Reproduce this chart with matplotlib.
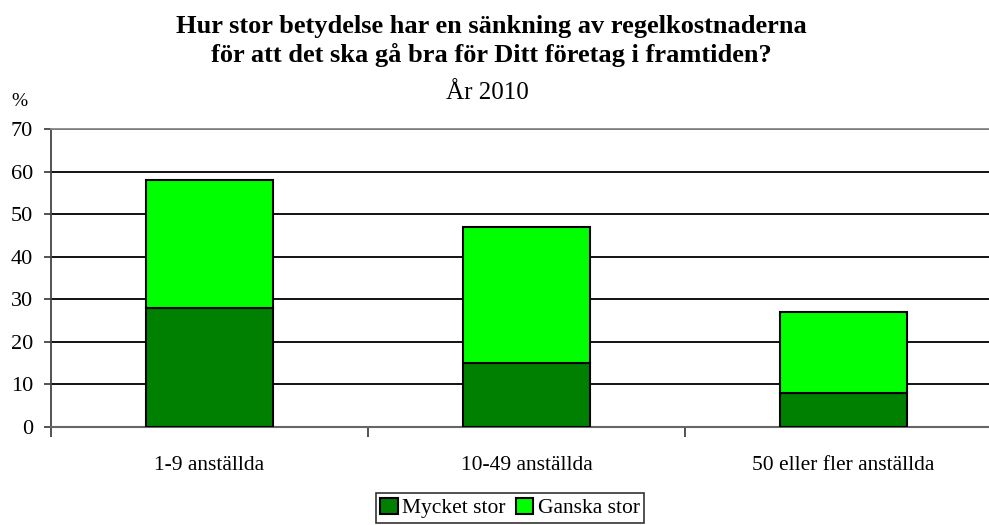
import matplotlib
matplotlib.use("Agg")
import matplotlib.pyplot as plt
import numpy as np

# Data (percent)
categories = ["1-9 anställda", "10-49 anställda", "50 eller fler anställda"]
mycket_stor = [28, 15, 8]
ganska_stor = [30, 32, 19]
series_names = ["Mycket stor", "Ganska stor"]
yticks = [0, 10, 20, 30, 40, 50, 60, 70]

plt.rcParams["font.family"] = ["Liberation Serif", "DejaVu Serif"]


def main():
    fig = plt.figure(figsize=(9.89, 5.25), dpi=100)
    ax = fig.add_axes([51 / 989, 1 - 427 / 525, 951 / 989, 298 / 525])

    x = np.arange(len(categories))
    ax.bar(x, mycket_stor, width=0.4, color="#008000", edgecolor="black",
           linewidth=1.5, label=series_names[0], zorder=3)
    ax.bar(x, ganska_stor, width=0.4, bottom=mycket_stor, color="#00FF00",
           edgecolor="black", linewidth=1.5, label=series_names[1], zorder=3)

    ax.set_xlim(-0.5, len(categories) - 0.5)
    ax.set_ylim(0, 70)
    ax.set_yticks(yticks)
    ax.set_yticklabels([str(t) for t in yticks], fontsize=16)
    ax.yaxis.grid(True, color="black", linewidth=1.3)
    ax.set_axisbelow(True)

    # category labels centred, ticks at boundaries
    ax.set_xticks(x)
    ax.set_xticklabels(categories, fontsize=15.5)
    ax.tick_params(axis="x", length=0, pad=21)
    ax.set_xticks(np.arange(-0.5, len(categories)), minor=True)
    ax.tick_params(axis="x", which="minor", length=7, width=1.3, color="#444444")
    ax.tick_params(axis="y", length=5, width=1.3, color="#444444", pad=8)

    ax.spines["right"].set_visible(False)
    ax.spines["top"].set_color("#888888")
    ax.spines["top"].set_linewidth(1.3)
    ax.spines["left"].set_color("#444444")
    ax.spines["left"].set_linewidth(1.3)
    ax.spines["bottom"].set_color("#666666")
    ax.spines["bottom"].set_linewidth(1.5)

    fig.text(491 / 989, 1 - 33 / 525, "Hur stor betydelse har en sänkning av regelkostnaderna",
             ha="center", va="baseline", fontsize=19, fontweight="bold")
    fig.text(491 / 989, 1 - 62 / 525, "för att det ska gå bra för Ditt företag i framtiden?",
             ha="center", va="baseline", fontsize=19, fontweight="bold")
    fig.text(487 / 989, 1 - 99 / 525, "År 2010", ha="center", va="baseline", fontsize=18)
    fig.text(19 / 989, 1 - 102 / 525, "%", ha="center", va="center", fontsize=14)

    leg = fig.legend(loc="center", bbox_to_anchor=(510 / 989, 1 - 508 / 525),
                     ncol=2, fontsize=15.5, frameon=True, fancybox=False,
                     handlelength=0.8, handleheight=0.8, handletextpad=0.2,
                     columnspacing=0.5, borderpad=0.2, borderaxespad=0)
    leg.get_frame().set_edgecolor("black")
    leg.get_frame().set_linewidth(1.2)

    fig.savefig("out.png", dpi=100)


if __name__ == "__main__":
    main()
